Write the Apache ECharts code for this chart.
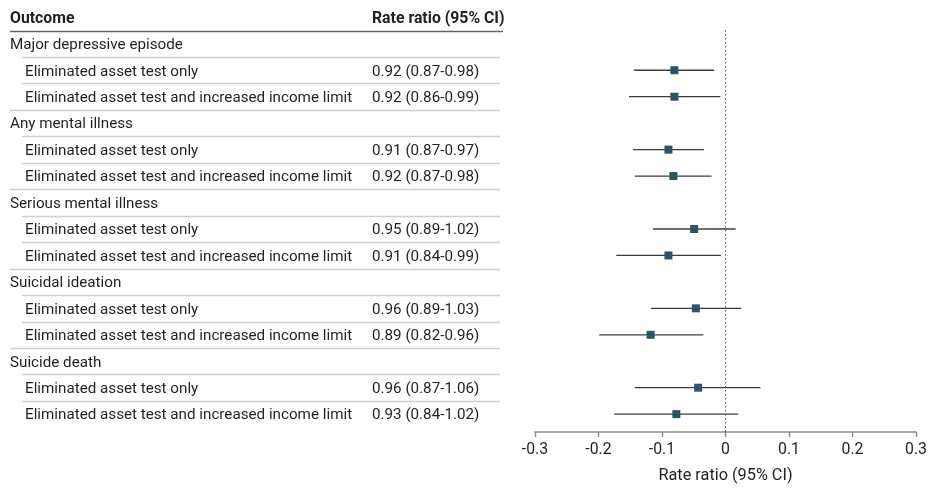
<!DOCTYPE html>
<html>
<head>
<meta charset="utf-8">
<script src="https://cdn.jsdelivr.net/npm/echarts@6/dist/echarts.min.js"></script>
<style>
html,body{margin:0;padding:0;background:#fff;}
#chart{width:930px;height:489px;}
</style>
</head>
<body>
<div id="chart"></div>
<script>
// ---- data ----
var groups = ['Major depressive episode', 'Any mental illness', 'Serious mental illness', 'Suicidal ideation', 'Suicide death'];
var subLabels = ['Eliminated asset test only', 'Eliminated asset test and increased income limit'];
var rrText = [
  '0.92 (0.87-0.98)', '0.92 (0.86-0.99)',
  '0.91 (0.87-0.97)', '0.92 (0.87-0.98)',
  '0.95 (0.89-1.02)', '0.91 (0.84-0.99)',
  '0.96 (0.89-1.03)', '0.89 (0.82-0.96)',
  '0.96 (0.87-1.06)', '0.93 (0.84-1.02)'
];
// plotted positions (log rate ratio scale)
var est = [-0.0805, -0.0805, -0.0899, -0.0821, -0.0494, -0.0899, -0.0467, -0.118, -0.0431, -0.0774];
var lo  = [-0.144, -0.152, -0.1455, -0.1428, -0.1143, -0.172, -0.1174, -0.199, -0.1433, -0.1755];
var hi  = [-0.018, -0.008, -0.034, -0.022, 0.016, -0.007, 0.025, -0.035, 0.055, 0.020];
var xTicks = [-0.3, -0.2, -0.1, 0, 0.1, 0.2, 0.3];
var refLine = 0.004;

var FONT = 'Roboto, "Noto Sans", sans-serif';
var FS = 15.2;
var FS_HEAD = 15.8;
var TXT = '#231f20';

var rows = [];
groups.forEach(function (g, gi) {
  rows.push({type: 'group', label: g});
  subLabels.forEach(function (s, si) {
    var k = gi * 2 + si;
    rows.push({type: 'sub', label: s, text: rrText[k], est: est[k], lo: lo[k], hi: hi[k]});
  });
});
var ciData = [], ptData = [];
rows.forEach(function (r, i) {
  if (r.type === 'sub') {
    ciData.push([r.lo, r.hi, i]);
    ptData.push([r.est, i]);
  }
});

var chart = echarts.init(document.getElementById('chart'), null, {renderer: 'canvas'});
var option = {
  animation: false,
  textStyle: {fontFamily: FONT},
  grid: {left: 535, right: 9.7, top: 30, bottom: 51.7},
  xAxis: {
    type: 'value', min: xTicks[0], max: xTicks[xTicks.length - 1], interval: 0.1,
    splitLine: {show: false},
    axisLine: {show: true, onZero: false, lineStyle: {color: '#8a8a8a', width: 1.6}},
    axisTick: {show: true, length: 5, lineStyle: {color: '#8a8a8a', width: 1.4}},
    axisLabel: {color: TXT, fontSize: 15.8, fontFamily: FONT, margin: 10,
      formatter: function (v) { return Math.abs(v) < 1e-9 ? '0' : (Math.round(v * 10) / 10).toString(); }},
    name: 'Rate ratio (95% CI)', nameLocation: 'middle', nameGap: 36,
    nameTextStyle: {color: TXT, fontSize: 16.3, fontFamily: FONT}
  },
  yAxis: {
    type: 'value', min: -0.522, max: 14.675, inverse: true, show: false
  },
  series: [
    {
      type: 'custom',
      data: ciData,
      encode: {x: [0, 1], y: 2},
      renderItem: function (params, api) {
        var a = api.coord([api.value(0), api.value(2)]);
        var b = api.coord([api.value(1), api.value(2)]);
        return {type: 'line', shape: {x1: a[0], y1: a[1], x2: b[0], y2: b[1]},
          style: {stroke: '#3c3c3c', lineWidth: 1.3}};
      },
      markLine: {
        silent: true, symbol: 'none', label: {show: false},
        lineStyle: {type: [1.5, 2.5], color: '#555', width: 1},
        data: [{xAxis: refLine}]
      },
      z: 2
    },
    {
      type: 'scatter',
      data: ptData,
      symbol: 'rect', symbolSize: 8,
      itemStyle: {color: '#2b5465', opacity: 1},
      z: 3
    }
  ]
};
chart.setOption(option);

function rowY(i) { return chart.convertToPixel({xAxisIndex: 0, yAxisIndex: 0}, [0, i])[1]; }
var step = rowY(1) - rowY(0);
var els = [];
function txt(x, y, s, bold) {
  return {type: 'text', x: x, y: y + 1.5,
    style: {text: s, font: (bold ? 'bold ' + FS_HEAD : FS) + 'px ' + FONT, fill: TXT, verticalAlign: 'middle', align: 'left'}};
}
var headY = rowY(-1);
els.push(txt(10, headY, 'Outcome', true));
els.push(txt(372, headY, 'Rate ratio (95% CI)', true));
var hl = Math.round(headY + step / 2) + 0.5;
els.push({type: 'line', shape: {x1: 10, y1: hl, x2: 503, y2: hl}, style: {stroke: '#666', lineWidth: 1.6}});
rows.forEach(function (r, i) {
  var y = rowY(i);
  if (r.type === 'group') {
    els.push(txt(10, y, r.label));
  } else {
    els.push(txt(25, y, r.label));
    els.push(txt(372, y, r.text));
  }
  if (i < rows.length - 1) {
    var next = rows[i + 1];
    var ly = Math.round(y + step / 2) + 0.5;
    els.push({type: 'line', shape: {x1: next.type === 'group' ? 10 : 22, y1: ly, x2: 500, y2: ly},
      style: {stroke: '#cfcfcf', lineWidth: 1.5}});
  }
});
chart.setOption({graphic: els});
</script>
</body>
</html>
